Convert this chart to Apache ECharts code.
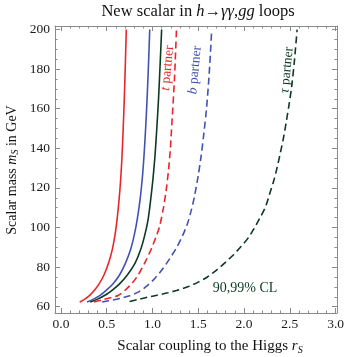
<!DOCTYPE html>
<html>
<head>
<meta charset="utf-8">
<script src="https://cdn.jsdelivr.net/npm/echarts@6/dist/echarts.min.js"></script>
<style>
  html, body { margin: 0; padding: 0; background: #ffffff; }
  #chart { width: 347px; height: 357px; }
</style>
</head>
<body>
<div id="chart"></div>
<script>
// Exclusion contours: scalar coupling r_S (x) vs scalar mass m_S in GeV (y)
// Solid = 90% CL, dashed = 99% CL

// t partner
const tSolid = [[0.205,62.4],[0.26,63.8],[0.32,66],[0.37,68.5],[0.417,71.5],[0.47,76],[0.52,82],[0.56,88.7],[0.59,96],[0.613,104],[0.635,114],[0.652,124],[0.667,136],[0.68,150],[0.692,165],[0.703,182],[0.714,200]];
const tDashed = [[0.36,62.4],[0.45,63.4],[0.55,64.6],[0.63,65.8],[0.70,68.3],[0.78,72],[0.85,76.5],[0.93,83.5],[0.99,89.5],[1.04,95.5],[1.077,100.5],[1.12,110],[1.15,119],[1.175,129],[1.194,139],[1.215,155],[1.24,175],[1.262,200]];

// b partner
const bSolid = [[0.285,62.4],[0.355,63.8],[0.435,66],[0.50,68.5],[0.567,71.5],[0.64,76],[0.705,82],[0.76,88.7],[0.80,96],[0.833,104],[0.864,114],[0.887,124],[0.907,136],[0.925,150],[0.941,165],[0.956,182],[0.97,200]];
const bDashed = [[0.45,62.4],[0.55,63.2],[0.65,64.2],[0.75,65.5],[0.85,67.5],[0.94,70.5],[1.03,74.5],[1.11,79],[1.185,84],[1.265,90],[1.325,95.5],[1.375,101],[1.42,108],[1.46,116],[1.495,125],[1.528,135],[1.56,147],[1.59,160],[1.62,178],[1.647,200]];

// tau partner
const tauSolid = [[0.32,62.4],[0.40,63.8],[0.49,66],[0.565,68.5],[0.64,71.5],[0.725,76],[0.81,82],[0.87,88.7],[0.915,96],[0.952,104],[0.98,114],[1.004,124],[1.027,136],[1.047,150],[1.066,165],[1.083,182],[1.10,200]];
const tauDashed = [[0.75,62.6],[0.85,63.7],[0.95,64.8],[1.05,65.8],[1.17,67],[1.29,68.6],[1.40,70.3],[1.50,72.4],[1.60,75.0],[1.70,78.5],[1.80,82.5],[1.88,86],[1.97,90.5],[2.05,95],[2.11,99.5],[2.17,104.5],[2.235,110.5],[2.28,117],[2.324,123.5],[2.36,130],[2.396,137.5],[2.43,145],[2.46,153],[2.49,161.5],[2.52,171],[2.55,184],[2.58,200]];

// Tick positions
const xMajorTicks = [0, 0.5, 1.0, 1.5, 2.0, 2.5, 3.0];
const xMinorTicks = [0.1,0.2,0.3,0.4,0.6,0.7,0.8,0.9,1.1,1.2,1.3,1.4,1.6,1.7,1.8,1.9,2.1,2.2,2.3,2.4,2.6,2.7,2.8,2.9];
const yMajorTicks = [60, 80, 100, 120, 140, 160, 180, 200];
const yMinorTicks = [65,70,75,85,90,95,105,110,115,125,130,135,145,150,155,165,170,175,185,190,195];

const X_MIN = -0.065, X_MAX = 3.015;
const Y_MIN = 56.8, Y_MAX = 201.8;

const SERIF = '"Liberation Serif", "DejaVu Serif", serif';
const FRAME = '#8a8a8a';
const RED = '#e8262b';
const BLUE = '#4252b0';
const GREEN = '#0c3a22';

const chart = echarts.init(document.getElementById('chart'), null, { renderer: 'canvas' });

function xAxisDef(pos, ticks, len, showLine, showLabel) {
  return {
    type: 'value', position: pos, min: X_MIN, max: X_MAX,
    axisLine: { show: showLine, onZero: false, lineStyle: { color: FRAME, width: 1 } },
    axisTick: { show: true, inside: true, length: len, customValues: ticks, lineStyle: { color: FRAME, width: 1 } },
    axisLabel: showLabel ? {
      show: true, customValues: ticks, margin: 4,
      formatter: v => Number(v).toFixed(1),
      fontFamily: SERIF, fontSize: 13.5, color: '#1a1a1a'
    } : { show: false },
    splitLine: { show: false }
  };
}
function yAxisDef(pos, ticks, len, showLine, showLabel) {
  return {
    type: 'value', position: pos, min: Y_MIN, max: Y_MAX,
    axisLine: { show: showLine, onZero: false, lineStyle: { color: FRAME, width: 1 } },
    axisTick: { show: true, inside: true, length: len, customValues: ticks, lineStyle: { color: FRAME, width: 1 } },
    axisLabel: showLabel ? {
      show: true, customValues: ticks, margin: 5,
      formatter: v => String(Math.round(v)),
      fontFamily: SERIF, fontSize: 13.5, color: '#1a1a1a'
    } : { show: false },
    splitLine: { show: false }
  };
}

function curve(data, color, dashed) {
  return {
    type: 'line', data: data, xAxisIndex: 0, yAxisIndex: 0,
    showSymbol: false, smooth: 0.3, silent: true,
    lineStyle: { color: color, width: 1.6, type: dashed ? [7, 4] : 'solid' },
    z: 3
  };
}

function richLabel(size, color) {
  return {
    i: { fontFamily: SERIF, fontSize: size, fontStyle: 'italic', fill: color, lineHeight: size + 3 },
    s: { fontFamily: SERIF, fontSize: Math.round(size * 0.68), fontStyle: 'italic', fill: color, lineHeight: Math.round(size * 0.75), verticalAlign: 'bottom' }
  };
}

chart.setOption({
  animation: false,
  backgroundColor: '#ffffff',
  grid: { left: 55, right: 4, top: 26, bottom: 44, containLabel: false },
  xAxis: [
    xAxisDef('bottom', xMajorTicks, 5, true, true),
    xAxisDef('top', xMajorTicks, 5, true, false),
    xAxisDef('bottom', xMinorTicks, 2.5, false, false),
    xAxisDef('top', xMinorTicks, 2.5, false, false)
  ],
  yAxis: [
    yAxisDef('left', yMajorTicks, 5, true, true),
    yAxisDef('right', yMajorTicks, 5, true, false),
    yAxisDef('left', yMinorTicks, 2.5, false, false),
    yAxisDef('right', yMinorTicks, 2.5, false, false)
  ],
  series: [
    curve(tSolid, RED, false),
    curve(bSolid, BLUE, false),
    curve(tauSolid, GREEN, false),
    curve(tDashed, RED, true),
    curve(bDashed, BLUE, true),
    curve(tauDashed, GREEN, true)
  ],
  graphic: [
    {
      type: 'text', x: 198, y: 12,
      style: {
        text: 'New scalar in {i|h}→{i|γγ},{i|gg} loops',
        fontFamily: SERIF, fontSize: 16.5, fill: '#111',
        align: 'center', verticalAlign: 'middle',
        rich: richLabel(16.5, '#111')
      }
    },
    {
      type: 'text', x: 210, y: 346,
      style: {
        text: 'Scalar coupling to the Higgs {i|r}{s|S}',
        fontFamily: SERIF, fontSize: 15, fill: '#111',
        align: 'center', verticalAlign: 'middle', lineHeight: 18,
        rich: richLabel(15, '#111')
      }
    },
    {
      type: 'text', x: 12, y: 170, rotation: Math.PI / 2,
      style: {
        text: 'Scalar mass {i|m}{s|S} in GeV',
        fontFamily: SERIF, fontSize: 14, fill: '#111',
        align: 'center', verticalAlign: 'middle', lineHeight: 17,
        rich: richLabel(14, '#111')
      }
    },
    {
      type: 'text', x: 167.5, y: 68, rotation: Math.PI * 0.47,
      style: {
        text: '{i|t} partner', fontFamily: SERIF, fontSize: 13.5, fill: RED,
        align: 'center', verticalAlign: 'middle',
        rich: richLabel(13.5, RED)
      }
    },
    {
      type: 'text', x: 195, y: 70, rotation: Math.PI * 0.47,
      style: {
        text: '{i|b} partner', fontFamily: SERIF, fontSize: 13.5, fill: BLUE,
        align: 'center', verticalAlign: 'middle',
        rich: richLabel(13.5, BLUE)
      }
    },
    {
      type: 'text', x: 287, y: 70, rotation: Math.PI * 0.47,
      style: {
        text: '{i|τ} partner', fontFamily: SERIF, fontSize: 13.5, fill: GREEN,
        align: 'center', verticalAlign: 'middle',
        rich: richLabel(13.5, GREEN)
      }
    },
    {
      type: 'text', x: 245, y: 288,
      style: {
        text: '90,99% CL', fontFamily: SERIF, fontSize: 14, fill: GREEN,
        align: 'center', verticalAlign: 'middle'
      }
    }
  ]
});
</script>
</body>
</html>
